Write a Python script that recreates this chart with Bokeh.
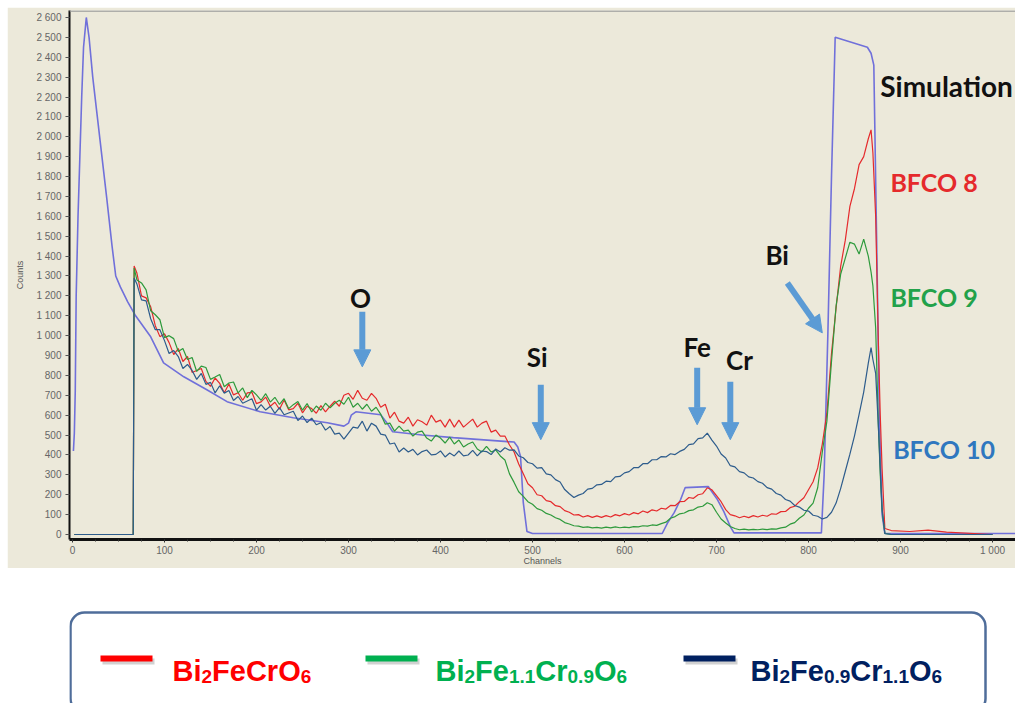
from bokeh.plotting import figure
from bokeh.models import Range1d, FixedTicker, Arrow, NormalHead, Span, BoxAnnotation
from bokeh.layouts import column
from bokeh.embed import file_html
from bokeh.resources import INLINE
from bokeh.core.properties import value

# ---------------- data ----------------
channels_exp = [2, 66, 67] + list(range(70, 870, 5)) + [868, 870, 873, 876, 878, 880, 883, 890, 910, 930, 950, 1000]

bfco8 = [0, 0, 1350,
         1315, 1200, 1190, 1145, 1050, 995, 1010, 965, 905, 935,
         870, 895, 815, 825, 835, 770, 745, 787, 760, 713,
         757, 702, 713, 675, 712, 715, 658, 667, 691, 645,
         665, 630, 676, 627, 633, 660, 612, 645, 633, 610,
         648, 617, 645, 670, 645, 700, 710, 680, 725, 685,
         675, 710, 685, 640, 655, 585, 615, 570, 560, 590,
         545, 577, 567, 550, 600, 565, 575, 540, 580, 540,
         575, 540, 560, 580, 540, 560, 570, 515, 525, 495,
         495, 450, 415, 355, 305, 255, 235, 200, 195, 170,
         165, 145, 140, 120, 112, 98, 100, 88, 95, 86,
         94, 86, 95, 88, 100, 94, 105, 98, 110, 104,
         118, 110, 124, 118, 132, 128, 146, 145, 165, 166,
         186, 182, 200, 205, 235, 225, 195, 165, 125, 100,
         94, 84, 92, 85, 95, 88, 97, 92, 104, 102,
         115, 116, 135, 142, 165, 185, 225, 265, 335, 455,
         610, 910, 1140, 1350, 1480, 1650, 1740, 1860, 1900, 1990,
         2035, 1920, 1600, 950, 600, 330, 30, 20, 15, 22, 12, 0]

bfco9 = [0, 0, 1340,
         1280, 1265, 1230, 1125, 1105, 1080, 990, 1000, 985, 920,
         935, 880, 890, 820, 847, 840, 780, 792, 805, 743,
         762, 767, 712, 737, 688, 725, 702, 675, 708, 666,
         690, 654, 683, 633, 653, 669, 625, 658, 616, 646,
         625, 660, 637, 660, 675, 655, 690, 640, 660, 630,
         655, 620, 640, 605, 555, 560, 520, 545, 520, 525,
         495, 515, 520, 485, 470, 500, 485, 460, 490, 455,
         475, 440, 455, 465, 430, 415, 443, 415, 425, 395,
         375, 305, 262, 215, 192, 165, 152, 130, 122, 106,
         98, 84, 76, 60, 53, 44, 42, 36, 38, 33,
         36, 32, 37, 33, 38, 34, 37, 35, 40, 38,
         44, 42, 48, 46, 55, 62, 82, 90, 104, 108,
         120, 124, 138, 142, 160, 150, 112, 78, 58, 40,
         30, 24, 27, 23, 26, 24, 27, 25, 28, 27,
         33, 37, 52, 60, 82, 98, 132, 158, 235, 415,
         570, 870, 1150, 1310, 1390, 1470, 1460, 1410, 1485, 1400,
         1320, 1250, 1040, 540, 300, 120, 5, 0, 0, 0, 0, 0]

bfco10 = [0, 0, 1290,
          1260, 1180, 1175, 1085, 1030, 1030, 975, 910, 925, 895,
          835, 855, 825, 780, 810, 755, 765, 712, 748, 711,
          724, 674, 694, 660, 671, 683, 625, 653, 626, 645,
          609, 638, 602, 611, 620, 573, 596, 563, 585, 552,
          562, 525, 543, 505, 510, 480, 510, 540, 535, 570,
          520, 560, 545, 505, 500, 455, 460, 415, 435, 415,
          428, 400, 417, 425, 400, 403, 420, 390, 410, 395,
          420, 395, 400, 423, 395, 420, 417, 402, 430, 415,
          436, 424, 426, 395, 386, 362, 356, 334, 336, 305,
          300, 276, 264, 226, 205, 186, 198, 206, 228, 232,
          250, 252, 268, 266, 290, 292, 310, 316, 336, 336,
          356, 356, 376, 376, 392, 390, 406, 402, 418, 428,
          452, 456, 482, 486, 510, 475, 445, 405, 385, 346,
          340, 316, 310, 290, 284, 266, 258, 236, 228, 206,
          198, 176, 168, 146, 138, 122, 118, 97, 92, 78,
          86, 112, 158, 232, 318, 404, 496, 604, 716, 862,
          940, 880, 810, 540, 330, 130, 5, 0, 0, 0, 0, 0]

sim_channels = [1, 2, 3, 4, 6, 8, 10, 12, 15, 18, 22, 27, 32, 37, 43, 47, 52, 60, 68, 85,
                99, 121, 146, 168, 204, 240, 277, 295, 300, 303, 308, 335, 342, 348, 380, 414,
                473, 480, 484, 487, 490, 494, 500, 641, 647, 654, 661, 666, 691, 701, 708, 715,
                719, 814, 817, 821, 825, 829, 864, 868, 871, 874, 877, 880, 883, 1025]
sim_counts = [420, 510, 720, 1200, 1600, 1900, 2200, 2450, 2600, 2500, 2300, 2100, 1900, 1700, 1450, 1300, 1245, 1170, 1104, 994,
              863, 793, 728, 668, 617, 587, 562, 545, 560, 600, 617, 602, 560, 517, 500, 487,
              467, 465, 440, 392, 160, 15, 5, 5, 60, 110, 176, 236, 241, 176, 115, 40,
              8, 8, 300, 1000, 1800, 2500, 2450, 2420, 2360, 1500, 600, 100, 5, 5]

x_ticks = list(range(0, 1001, 100))
x_minor = list(range(0, 1026, 25))
y_ticks = list(range(0, 2601, 100))

series_labels = ["Simulation", "BFCO 8", "BFCO 9", "BFCO 10"]
element_labels = ["O", "Si", "Fe", "Cr", "Bi"]
legend_formulas = [
    [("Bi", 0), ("2", 1), ("FeCrO", 0), ("6", 1)],
    [("Bi", 0), ("2", 1), ("Fe", 0), ("1.1", 1), ("Cr", 0), ("0.9", 1), ("O", 0), ("6", 1)],
    [("Bi", 0), ("2", 1), ("Fe", 0), ("0.9", 1), ("Cr", 0), ("1.1", 1), ("O", 0), ("6", 1)],
]

# ---------------- styles ----------------
BG = "#ECE9DA"
C_SIM = "#7070DA"
C_R = "#E52A2C"
C_G = "#2E9A3C"
C_B = "#2D5C8C"
ARROW = "#5B9BD5"
LBL_FONT = value("Lato")
MAIN_H = 561

p = figure(width=1008, height=MAIN_H, x_range=Range1d(-3.26, 1025), y_range=Range1d(-25.1, 2635),
           output_backend="svg", toolbar_location=None,
           min_border_left=62, min_border_right=0, min_border_top=3, min_border_bottom=28,
           background_fill_color=BG, border_fill_color=BG)
p.margin = (7, 0, 0, 7)
p.outline_line_color = None
p.xgrid.visible = False
p.ygrid.visible = False

xa = p.xaxis[0]
xa.ticker = FixedTicker(ticks=x_ticks, minor_ticks=x_minor)
xa.major_label_overrides = {t: f"{t:,}".replace(",", " ") for t in x_ticks}
xa.axis_label = "Channels"
xa.axis_label_text_font_size = "9px"
xa.axis_label_text_font_style = "normal"
xa.axis_label_text_color = "#555555"
xa.axis_label_text_font = "Liberation Sans"
xa.axis_label_standoff = -3
xa.axis_line_width = 3
xa.axis_line_color = "#111111"
xa.major_tick_out = 3
xa.major_tick_in = 0
xa.minor_tick_out = 2
xa.minor_tick_in = 0
xa.major_tick_line_color = "#333333"
xa.minor_tick_line_color = "#333333"
xa.major_label_text_font_size = "10px"
xa.major_label_text_color = "#666666"
xa.major_label_text_font = "Liberation Sans"
xa.major_label_standoff = 2

ya = p.yaxis[0]
ya.ticker = FixedTicker(ticks=y_ticks, minor_ticks=[])
ya.major_label_overrides = {t: f"{t:,}".replace(",", " ") for t in y_ticks}
ya.axis_label = "Counts"
ya.axis_label_text_font_size = "9px"
ya.axis_label_text_font_style = "normal"
ya.axis_label_text_color = "#555555"
ya.axis_label_text_font = "Liberation Sans"
ya.axis_label_standoff = 8
ya.axis_line_width = 2
ya.axis_line_color = "#111111"
ya.major_tick_out = 4
ya.major_tick_in = 0
ya.major_tick_line_color = "#555555"
ya.major_label_text_font_size = "10px"
ya.major_label_text_color = "#666666"
ya.major_label_text_font = "Liberation Sans"
ya.major_label_standoff = 4

p.add_layout(Span(location=2632, dimension="width", line_color="#9A9A9A", line_width=1.5))

p.line(sim_channels, sim_counts, line_color=C_SIM, line_width=1.6)
p.line(channels_exp, bfco8, line_color=C_R, line_width=1.2)
p.line(channels_exp, bfco9, line_color=C_G, line_width=1.2)
p.line(channels_exp, bfco10, line_color=C_B, line_width=1.2)

# series labels
ser_x = [878, 889, 889, 892]
ser_y = [2254, 1772, 1195, 432]
ser_c = ["#111111", "#E52A2C", "#22A24A", "#2F77BF"]
ser_s = ["28px", "25px", "25px", "25px"]
p.text(x=ser_x, y=ser_y, text=series_labels, text_color=ser_c, text_font=LBL_FONT,
       text_font_style="bold", text_font_size=ser_s, text_align="left", text_baseline="middle")

# element labels + arrows
el_x = [313, 505, 679, 725, 766]
el_y = [1190, 894, 944, 879, 1406]
p.text(x=el_x, y=el_y, text=element_labels, text_color="#111111", text_font=LBL_FONT,
       text_font_style="bold", text_font_size="26px", text_align="center", text_baseline="middle")

arrows = [(315, 1120, 315, 843), (509, 753, 509, 477), (679, 838, 679, 552),
          (715, 768, 715, 477), (777, 1265, 815, 1014)]
for xs, ys, xe, ye in arrows:
    p.add_layout(Arrow(x_start=xs, y_start=ys, x_end=xe, y_end=ye, line_color=ARROW, line_width=6,
                       end=NormalHead(size=17, fill_color=ARROW, line_color=ARROW, line_width=1)))

# ---------------- legend panel (data units = page pixels, y = -page_y) ----------------
LEG_TOP = 7 + MAIN_H
lg = figure(width=1008, height=703 - LEG_TOP, x_range=Range1d(69, 1015), y_range=Range1d(-703, -LEG_TOP),
            output_backend="svg", toolbar_location=None,
            min_border_left=62, min_border_right=0, min_border_top=0, min_border_bottom=0,
            x_axis_type=None, y_axis_type=None,
            background_fill_color="white", border_fill_color="white")
lg.margin = (0, 0, 0, 7)
lg.outline_line_color = None

lg.add_layout(BoxAnnotation(left=70, right=985, top=-612, bottom=-712,
                            fill_color=None, line_color="#4F6D9A", line_alpha=1.0,
                            line_width=2.5, border_radius=14))

W = {"B": .722, "i": .278, "F": .611, "e": .556, "C": .722, "r": .389, "O": .778, ".": .278}
def twidth(s, size):
    return sum(W.get(ch, .556) for ch in s) * size

leg_colors = ["#FF0000", "#00B050", "#002060"]
seg_x = [(100, 152), (365, 417), (683, 735)]
txt_x = [172, 435, 750]
MAIN, SUB = 29, 19
base_y = -670
for formula, col, (sx0, sx1), tx in zip(legend_formulas, leg_colors, seg_x, txt_x):
    lg.line([sx0 + 2, sx1 + 2], [-661, -661], line_color="#999999", line_alpha=0.45, line_width=6)
    lg.line([sx0, sx1], [-658, -658], line_color=col, line_width=6)
    x = tx
    for txt, sub in formula:
        size = SUB if sub else MAIN
        y = base_y - 6 if sub else base_y
        lg.text(x=[x], y=[y], text=[txt], text_color=col, text_font=value("Liberation Sans"),
                text_font_style="bold", text_font_size=f"{size}px", text_align="left",
                text_baseline="alphabetic")
        x += twidth(txt, size)

open("out.html", "w").write(file_html(column(p, lg), INLINE))
